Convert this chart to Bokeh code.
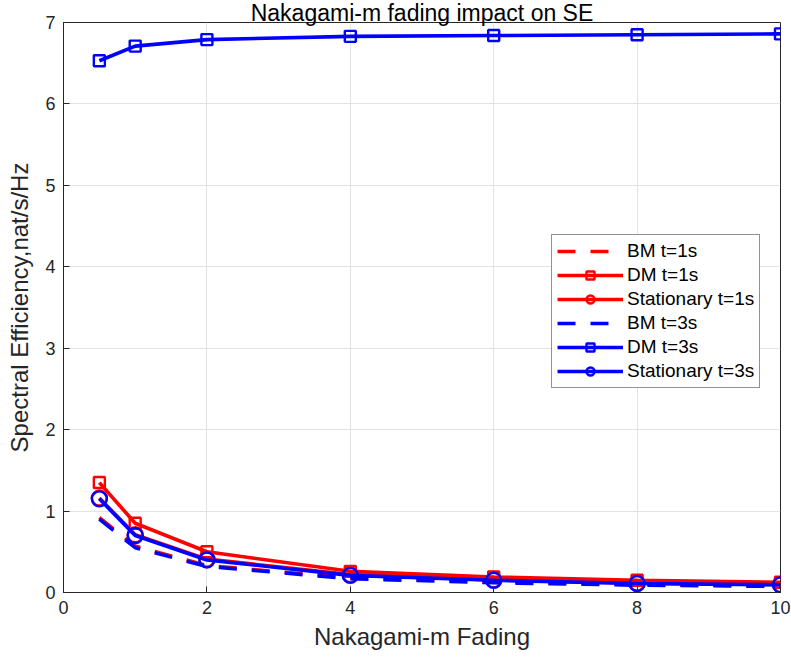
from bokeh.plotting import figure
from bokeh.models import Legend, LegendItem, FixedTicker
from bokeh.embed import file_html
from bokeh.resources import INLINE

# ---- data ----
m_values = [0.5, 1, 2, 4, 6, 8, 10]
bm_t1 = [0.92, 0.57, 0.33, 0.18, 0.13, 0.10, 0.08]
dm_t1 = [1.35, 0.85, 0.50, 0.26, 0.19, 0.15, 0.125]
st_t1 = [1.16, 0.71, 0.41, 0.22, 0.155, 0.115, 0.097]
bm_t3 = [0.90, 0.55, 0.32, 0.17, 0.12, 0.09, 0.075]
dm_t3 = [6.53, 6.71, 6.79, 6.83, 6.84, 6.85, 6.86]
st_t3 = [1.15, 0.70, 0.40, 0.21, 0.15, 0.11, 0.095]

x_ticks = [0, 2, 4, 6, 8, 10]
y_ticks = [0, 1, 2, 3, 4, 5, 6, 7]

title_text = "Nakagami-m fading impact on SE"
x_label = "Nakagami-m Fading"
y_label = "Spectral Efficiency,nat/s/Hz"

FONT = "Liberation Sans"
AX = "#262626"

p = figure(width=791, height=657, output_backend="svg", toolbar_location=None,
           x_range=(0, 10), y_range=(0, 7), title=title_text,
           min_border_left=63, min_border_right=11, min_border_top=0,
           min_border_bottom=65)

p.title.align = "center"
p.title.text_font = FONT
p.title.text_font_size = "23px"
p.title.text_font_style = "normal"
p.title.text_color = "black"
p.title.standoff = -6

p.outline_line_color = AX
p.outline_line_width = 1

for ax in (p.xaxis[0], p.yaxis[0]):
    ax.axis_line_color = AX
    ax.major_tick_line_color = AX
    ax.major_tick_in = 6
    ax.major_tick_out = 0
    ax.minor_tick_line_color = None
    ax.major_label_text_font = FONT
    ax.major_label_text_font_size = "18px"
    ax.major_label_text_color = AX
    ax.axis_label_text_font = FONT
    ax.axis_label_text_font_size = "24px"
    ax.axis_label_text_font_style = "normal"
    ax.axis_label_text_color = AX
    ax.major_label_standoff = 8

p.xaxis.axis_label_standoff = 6
p.yaxis.axis_label_standoff = 9

p.xaxis.ticker = FixedTicker(ticks=x_ticks)
p.yaxis.ticker = FixedTicker(ticks=y_ticks)
p.xaxis.axis_label = x_label
p.yaxis.axis_label = y_label

p.xgrid.grid_line_color = "#e3e3e3"
p.ygrid.grid_line_color = "#e3e3e3"
p.xgrid.ticker = FixedTicker(ticks=x_ticks)
p.ygrid.ticker = FixedTicker(ticks=y_ticks)

RED = "#ff0000"
BLUE = "#0000ff"
LW = 3.6
DASH = "18 15"

items = []

def add_series(y, color, label, dash=None, marker=None, size=11):
    rs = []
    if dash:
        rs.append(p.line(m_values, y, line_color=color, line_width=LW, line_dash=dash))
    else:
        rs.append(p.line(m_values, y, line_color=color, line_width=LW))
    if marker:
        rs.append(p.scatter(m_values, y, marker=marker, size=size, line_color=color,
                            line_width=2.4, fill_color=None))
    items.append(LegendItem(label=label, renderers=rs))

add_series(bm_t1, RED, "BM t=1s", dash=DASH)
add_series(dm_t1, RED, "DM t=1s", marker="square", size=11)
add_series(st_t1, RED, "Stationary t=1s", marker="circle", size=15)
add_series(bm_t3, BLUE, "BM t=3s", dash=DASH)
add_series(dm_t3, BLUE, "DM t=3s", marker="square", size=11)
add_series(st_t3, BLUE, "Stationary t=3s", marker="circle", size=15)

legend = Legend(items=items, location=(488, 204))
legend.border_line_color = AX
legend.border_line_width = 1
legend.background_fill_color = "white"
legend.background_fill_alpha = 1
legend.label_text_font = FONT
legend.label_text_font_size = "19px"
legend.label_text_color = "black"
legend.glyph_width = 66
legend.glyph_height = 20
legend.label_height = 20
legend.spacing = 2
legend.padding = 5
legend.margin = 0
legend.label_standoff = 4
p.add_layout(legend, "center")

open("out.html", "w").write(file_html(p, INLINE))
